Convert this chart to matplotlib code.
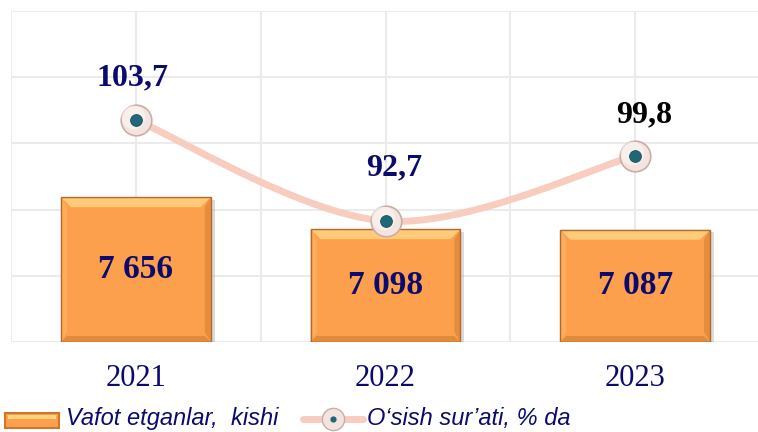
"""
Deaths (bars) and growth rate (smoothed line) for 2021-2023.
"""
import numpy as np
import matplotlib.pyplot as plt
from matplotlib.patches import Rectangle, Polygon
from matplotlib.lines import Line2D

# Data
years = ['2021', '2022', '2023']
deaths = [7656, 7098, 7087]
growth = [103.7, 92.7, 99.8]
death_labels = ['7 656', '7 098', '7 087']
growth_labels = ['103,7', '92,7', '99,8']

NAVY = '#0B0B6E'
BAR = '#FCA04E'
LINE = '#F8CDBF'
GRID = '#EBEBEB'


def smooth(xs, ys, n=60):
    """Catmull-Rom style smoothing like Excel's smoothed line."""
    xs = np.asarray(xs, float)
    ys = np.asarray(ys, float)
    px = np.concatenate([[xs[0]], xs, [xs[-1]]])
    py = np.concatenate([[ys[0]], ys, [ys[-1]]])
    out_x, out_y = [], []
    t = np.linspace(0, 1, n)
    for i in range(1, len(px) - 2):
        p0, p1, p2, p3 = (np.array([px[j], py[j]]) for j in range(i - 1, i + 3))
        c1 = p1 + (p2 - p0) / 6
        c2 = p2 - (p3 - p1) / 6
        pts = ((1 - t) ** 3)[:, None] * p1 + (3 * (1 - t) ** 2 * t)[:, None] * c1 \
            + (3 * (1 - t) * t ** 2)[:, None] * c2 + (t ** 3)[:, None] * p2
        out_x.extend(pts[:, 0])
        out_y.extend(pts[:, 1])
    return np.array(out_x), np.array(out_y)


def bevel_bar(ax, rect, dx, dy):
    x, y = rect.get_x(), rect.get_y()
    w, h = rect.get_width(), rect.get_height()
    x2, y2 = x + w, y + h
    # soft shadow to the right/bottom
    ax.add_patch(Rectangle((x + dx * 0.4, y - dy * 0.25), w, h, color='#8A8A8A',
                           alpha=0.3, zorder=1.5, lw=0))
    faces = [
        ([(x, y2), (x2, y2), (x2 - dx, y2 - dy), (x + dx, y2 - dy)], '#FFCB78'),
        ([(x, y), (x, y2), (x + dx * 0.6, y2 - dy), (x + dx * 0.6, y + dy)], '#FDAD5C'),
        ([(x2, y), (x2, y2), (x2 - dx * 0.6, y2 - dy), (x2 - dx * 0.6, y + dy)], '#E48E3D'),
        ([(x, y), (x2, y), (x2 - dx * 0.6, y + dy * 0.6), (x + dx * 0.6, y + dy * 0.6)],
         '#E08A3A'),
    ]
    for pts, col in faces:
        ax.add_patch(Polygon(pts, closed=True, color=col, lw=0, zorder=2.5))
    ax.add_patch(Rectangle((x, y), w, h, fill=False, ec='#B06A2C', lw=1.0, zorder=2.6))


def main():
    fig = plt.figure(figsize=(7.58, 4.32), dpi=100)
    ax = fig.add_axes([11 / 758, 90 / 432, 749 / 758, 331 / 432])
    x = np.arange(len(years))

    bar_lo, bar_hi = 5131, 10900
    ax.set_xlim(-0.5, 2.5)
    ax.set_ylim(bar_lo, bar_hi)
    ax.set_yticks(np.linspace(bar_lo, bar_hi, 6))
    ax.set_xticks(np.arange(-0.5, 2.6, 0.5))
    ax.grid(True, color=GRID, lw=1.5, zorder=0)
    ax.set_axisbelow(True)
    for s in ax.spines.values():
        s.set_visible(False)
    ax.tick_params(length=0, labelleft=False, labelbottom=False)

    bars = ax.bar(x, deaths, width=0.6, color=BAR, zorder=2)
    ax.set_ylim(bar_lo, bar_hi)
    px_x = 0.6 / 149
    px_y = (bar_hi - bar_lo) / 331
    for rect in bars:
        rect.set_y(bar_lo)
        rect.set_height(rect.get_height() - bar_lo)
        bevel_bar(ax, rect, 10 * px_x, 10 * px_y)
    for xi, v, lab in zip(x, deaths, death_labels):
        ax.text(xi, bar_lo + (v - bar_lo) / 2, lab, ha='center', va='center',
                fontsize=24, fontweight='bold', family='Liberation Serif',
                color=NAVY, zorder=5)

    for xi, yr in zip(x, years):
        ax.text(xi, bar_lo - 37 * px_y, yr, ha='center', va='center',
                fontsize=22, family='Liberation Serif', color=NAVY)

    # growth line on secondary axis
    ax2 = ax.twinx()
    ax2.set_ylim(79.5, 115.6)
    ax2.axis('off')
    sx, sy = smooth(x, growth)
    ax2.plot(sx, sy, color=LINE, lw=5, solid_capstyle='round', zorder=3)
    ax2.plot(x, growth, 'o', ms=22, mfc='#F4E4E0', mec='#C9ADA6', mew=1.2, zorder=4)
    ax2.plot(x - 0.012, np.array(growth) + 0.35, 'o', ms=17, mfc='#FBF4F2', mec='none',
             alpha=0.7, zorder=4)
    ax2.plot(x, growth, 'o', ms=8.5, mfc='#1F6878', mec='#174E5A', mew=0.6, zorder=5)

    offsets = [(-0.015, 4.6), (0.035, 5.8), (0.035, 4.5)]
    colors = [NAVY, NAVY, 'black']
    for xi, v, lab, (ox, oy), c in zip(x, growth, growth_labels, offsets, colors):
        ax2.text(xi + ox, v + oy, lab, ha='center', va='center', fontsize=23,
                 fontweight='bold', family='Liberation Serif', color=c, zorder=5)

    # legend drawn by hand at the bottom
    ly = 1 - 419 / 432
    fig.patches.append(Rectangle((5 / 758, 1 - 428 / 432), 54 / 758, 15 / 432,
                                 transform=fig.transFigure, facecolor=BAR,
                                 edgecolor='#C9782E', lw=1.5, figure=fig))
    fig.patches.append(Rectangle((8 / 758, 1 - 419 / 432), 48 / 758, 4 / 432,
                                 transform=fig.transFigure, facecolor='#FFD27E',
                                 edgecolor='none', figure=fig))
    fig.text(66 / 758, ly, 'Vafot etganlar,  kishi', fontsize=17,
             style='italic', family='Liberation Sans', color=NAVY, va='center')
    fig.lines.append(Line2D([303 / 758, 363 / 758], [ly] * 2,
                            transform=fig.transFigure, color=LINE, lw=5,
                            solid_capstyle='round', figure=fig))
    fig.lines.append(Line2D([333 / 758], [ly], transform=fig.transFigure,
                            marker='o', ms=16, mfc='#F4E4E0', mec='#C9ADA6',
                            figure=fig))
    fig.lines.append(Line2D([333 / 758], [ly], transform=fig.transFigure,
                            marker='o', ms=4.5, mfc='#1F6878', mec='none', figure=fig))
    fig.text(367 / 758, ly, 'O‘sish sur’ati, % da', fontsize=17,
             style='italic', family='Liberation Sans', color=NAVY, va='center')

    fig.savefig('out.png', dpi=100)
    plt.close(fig)


if __name__ == '__main__':
    main()
